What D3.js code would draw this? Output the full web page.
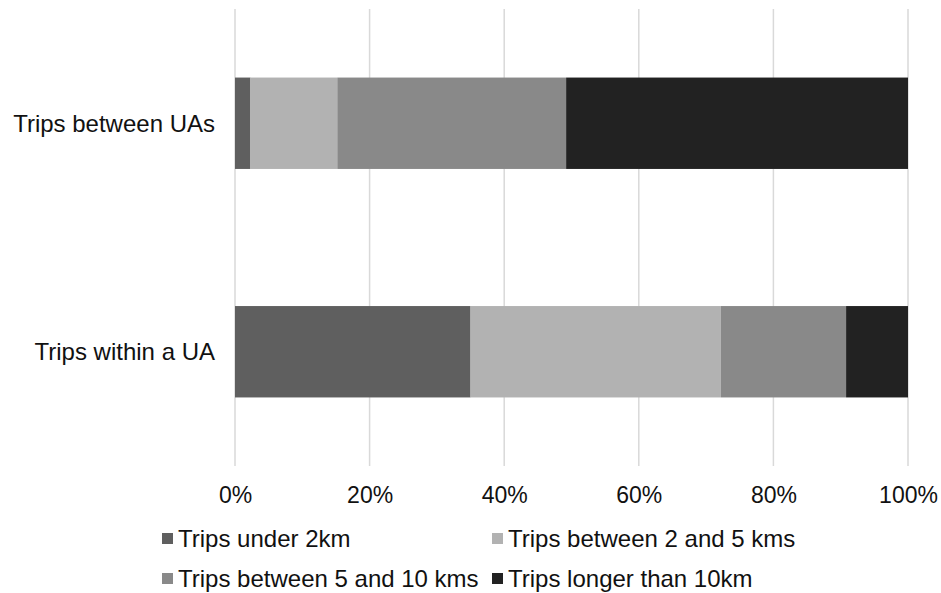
<!DOCTYPE html>
<html><head><meta charset="utf-8">
<script src="https://cdn.jsdelivr.net/npm/d3@7"></script>
<style>body{margin:0;background:#fff;} svg{display:block;}</style>
</head><body>
<svg id="chart" width="941" height="593"></svg>
<script>
const categories = ["Trips between UAs", "Trips within a UA"];
const seriesNames = ["Trips under 2km", "Trips between 2 and 5 kms", "Trips between 5 and 10 kms", "Trips longer than 10km"];
const under2km = [2.3, 35.0];
const between2and5 = [12.9, 37.2];
const between5and10 = [34.0, 18.6];
const longer10 = [50.8, 9.2];
const tickValues = [0, 20, 40, 60, 80, 100];
const colors = ["#5f5f5f", "#b2b2b2", "#898989", "#222222"];

const seriesValues = [under2km, between2and5, between5and10, longer10];
const rows = categories.map((c, i) => {
  const r = {cat: c};
  seriesNames.forEach((s, j) => r[s] = seriesValues[j][i]);
  return r;
});
const stacked = d3.stack().keys(seriesNames)(rows);

const svg = d3.select("#chart");
const font = "Arial, 'Liberation Sans', sans-serif";
const x = d3.scaleLinear().domain([0, 100]).range([235, 908]);
const y = d3.scaleBand().domain(categories).range([9, 466]).paddingInner(0.6).paddingOuter(0.3);

// gridlines
svg.append("g").selectAll("line").data(tickValues).join("line")
  .attr("x1", d => x(d)).attr("x2", d => x(d))
  .attr("y1", 9).attr("y2", 466)
  .attr("stroke", "#d9d9d9").attr("stroke-width", 1.5);

// bars
svg.append("g").selectAll("g").data(stacked).join("g")
  .attr("fill", (d, i) => colors[i])
  .selectAll("rect").data(d => d).join("rect")
  .attr("x", d => x(d[0]))
  .attr("width", d => x(d[1]) - x(d[0]))
  .attr("y", d => y(d.data.cat))
  .attr("height", y.bandwidth());

// x axis
const xAxis = d3.axisBottom(x).tickValues(tickValues).tickFormat(d => d + "%").tickSize(0).tickPadding(0);
const gx = svg.append("g").attr("transform", "translate(0,503)").call(xAxis);
gx.select(".domain").remove();
gx.selectAll("text").attr("dy", 0).attr("y", 0)
  .style("font-family", font).style("font-size", "23px").attr("fill", "#111");

// y axis
const yAxis = d3.axisLeft(y).tickSize(0).tickPadding(20);
const gy = svg.append("g").attr("transform", "translate(235,0)").call(yAxis);
gy.select(".domain").remove();
gy.selectAll("text").attr("dy", "0.35em")
  .style("font-family", font).style("font-size", "24px").attr("fill", "#111");

// legend
const legendPos = [[162, 547], [492, 547], [162, 587], [492, 587]];
const lg = svg.append("g").selectAll("g").data(seriesNames).join("g")
  .attr("transform", (d, i) => `translate(${legendPos[i][0]},${legendPos[i][1]})`);
lg.append("rect").attr("x", 0).attr("y", -14).attr("width", 11).attr("height", 11)
  .attr("fill", (d, i) => colors[i]);
lg.append("text").attr("x", 16).attr("y", 0).text(d => d)
  .style("font-family", font).style("font-size", "24px").attr("fill", "#111");
</script>
</body></html>
